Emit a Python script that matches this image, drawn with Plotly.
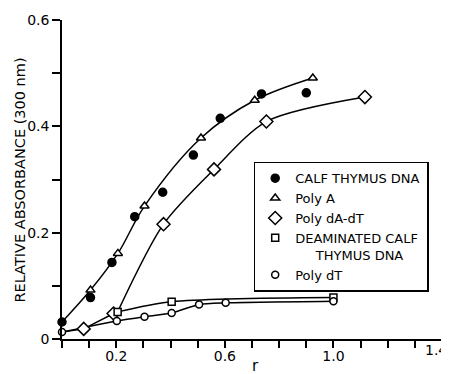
import plotly.graph_objects as go

# ---- data ----
calf_r = [0.0, 0.105, 0.184, 0.268, 0.371, 0.484, 0.583, 0.735, 0.90]
calf_y = [0.032, 0.078, 0.144, 0.230, 0.276, 0.346, 0.415, 0.461, 0.463]

polyA_r = [0.105, 0.206, 0.304, 0.512, 0.71, 0.924]
polyA_y = [0.092, 0.161, 0.250, 0.378, 0.449, 0.491]

polydAdT_r = [0.08, 0.19, 0.374, 0.56, 0.753, 1.116]
polydAdT_y = [0.019, 0.048, 0.216, 0.319, 0.409, 0.455]

deam_r = [0.205, 0.404, 1.0]
deam_y = [0.051, 0.070, 0.078]

polydT_r = [0.0, 0.202, 0.304, 0.404, 0.505, 0.603, 1.0]
polydT_y = [0.013, 0.034, 0.042, 0.049, 0.065, 0.068, 0.071]

# hand-drawn fit curves
upper_fit_r = [0.0, 0.105, 0.206, 0.304, 0.512, 0.71, 0.924]
upper_fit_y = [0.032, 0.092, 0.161, 0.250, 0.378, 0.449, 0.491]
dAdT_low_r = [0.0, 0.08, 0.19]
dAdT_low_y = [0.013, 0.019, 0.048]
dAdT_fit_r = [0.205, 0.374, 0.56, 0.753, 1.116]
dAdT_fit_y = [0.051, 0.216, 0.319, 0.409, 0.455]

x_tickvals = [0.0, 0.1, 0.2, 0.3, 0.4, 0.5, 0.6, 0.7, 0.8, 0.9, 1.0, 1.1, 1.2, 1.3, 1.4]
x_ticktext = ["", "", "0.2", "", "", "", "0.6", "", "", "", "1.0", "", "", "", ""]
x_last_label = "1.4"   # drawn as text at the axis end so it is not clipped by the page edge
y_tickvals = [0.0, 0.1, 0.2, 0.3, 0.4, 0.5, 0.6]
y_ticktext = ["0", "", "0.2", "", "0.4", "", "0.6"]

FONT = "DejaVu Sans, Verdana, sans-serif"
LW = 1.5

fig = go.Figure()

def curve(x, y, shape="spline", smoothing=1.0):
    fig.add_trace(go.Scatter(x=x, y=y, mode="lines", showlegend=False,
                             line=dict(color="black", width=LW, shape=shape, smoothing=smoothing),
                             cliponaxis=False, hoverinfo="skip"))

curve(upper_fit_r, upper_fit_y)
curve(dAdT_low_r, dAdT_low_y, shape="linear")
curve(dAdT_fit_r, dAdT_fit_y, smoothing=0.8)
curve(deam_r, deam_y, smoothing=0.8)
curve(polydT_r, polydT_y, smoothing=0.6)

def marks(x, y, name, symbol, size, fill):
    fig.add_trace(go.Scatter(x=x, y=y, mode="markers", name=name, cliponaxis=False,
                             marker=dict(symbol=symbol, size=size, color=fill,
                                         line=dict(color="black", width=1.5))))

NB = "\u00a0"
marks(calf_r, calf_y, "CALF THYMUS DNA", "circle", 8, "black")
marks(polyA_r, polyA_y, "Poly A", "triangle-up", 8, "white")
marks(polydAdT_r, polydAdT_y, "Poly dA-dT", "diamond", 10, "white")
marks(deam_r, deam_y, "DEAMINATED CALF" + NB + "<br>" + NB * 5 + "THYMUS DNA", "square", 7, "white")
marks(polydT_r, polydT_y, "Poly dT", "circle", 7, "white")

# the page body has an 8px margin: work in window pixels and subtract it
OFF = 8
WIN_W, WIN_H = 449, 374
W, H = WIN_W - OFF, WIN_H - OFF
L = 61.5 - OFF
T = 20 - OFF
R = WIN_W - 441.7
B = WIN_H - 339
pw, ph = W - L - R, H - T - B

def px2paper_x(px):
    return (px - OFF - L) / pw

def px2paper_y(py):
    return 1 - (py - OFF - T) / ph

fig.update_layout(
    width=W, height=H,
    margin=dict(l=L, r=R, t=T, b=B, autoexpand=False),
    paper_bgcolor="white", plot_bgcolor="white",
    font=dict(family=FONT, size=14, color="black"),
    xaxis=dict(range=[0, 1.4], tickvals=x_tickvals, ticktext=x_ticktext,
               ticks="outside", ticklen=7, tickwidth=LW, tickcolor="black",
               showline=True, linecolor="black", linewidth=LW,
               showgrid=False, zeroline=False, tickfont=dict(size=14),
               ticklabelstandoff=-4, ticklabeloverflow="allow", automargin=False),
    yaxis=dict(range=[0, 0.6], tickvals=y_tickvals, ticktext=y_ticktext,
               ticks="outside", ticklen=8, tickwidth=LW, tickcolor="black",
               showline=True, linecolor="black", linewidth=LW,
               showgrid=False, zeroline=False, tickfont=dict(size=14),
               ticklabeloverflow="allow", automargin=False),
    legend=dict(x=px2paper_x(253.3), y=px2paper_y(161.7), xanchor="left", yanchor="top",
                bordercolor="black", borderwidth=1.5, bgcolor="white",
                font=dict(family=FONT, size=13), valign="top", tracegroupgap=0),
    showlegend=True,
    annotations=[
        dict(text="RELATIVE ABSORBANCE (300 nm)", textangle=-90, showarrow=False,
             xref="paper", yref="paper", x=px2paper_x(19), y=px2paper_y(180),
             xanchor="center", yanchor="middle", font=dict(size=14.5)),
        dict(text="r", showarrow=False, xref="paper", yref="paper",
             x=px2paper_x(255), y=px2paper_y(366), xanchor="center", yanchor="middle",
             font=dict(size=15)),
        dict(text=x_last_label, showarrow=False, xref="paper", yref="paper",
             x=px2paper_x(448.5), y=px2paper_y(350), xanchor="right", yanchor="middle",
             font=dict(size=14)),
    ],
)

fig.write_html("out.html")
